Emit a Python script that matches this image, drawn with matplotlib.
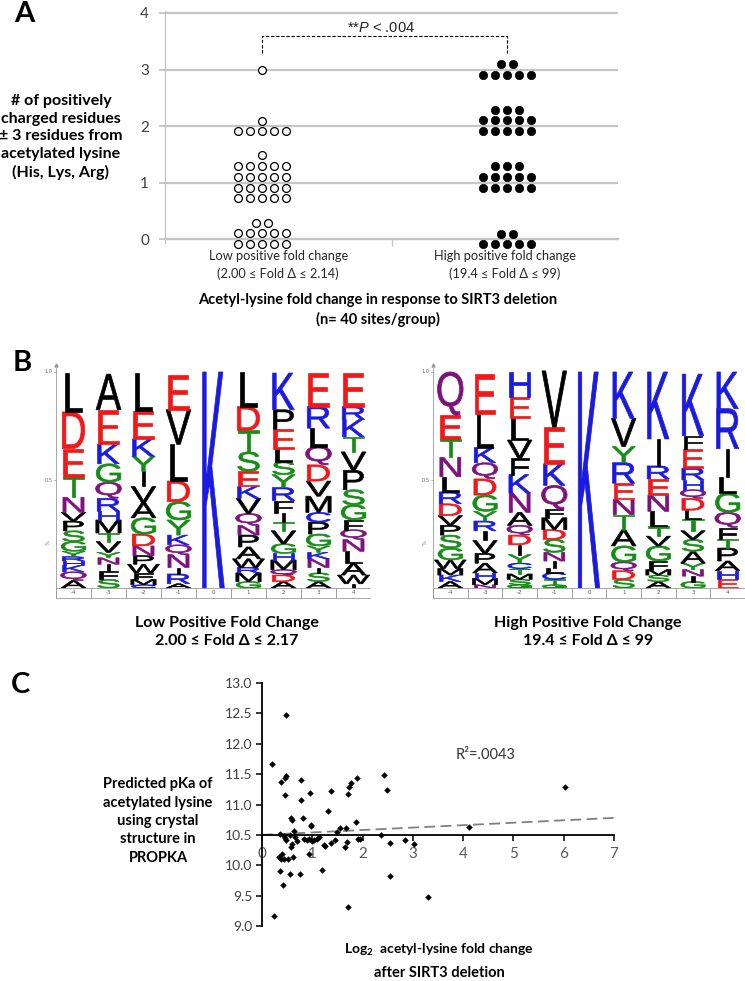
import numpy as np
import matplotlib
matplotlib.use('Agg')
import matplotlib.pyplot as plt
from matplotlib.textpath import TextPath
from matplotlib.patches import PathPatch, Rectangle
from matplotlib.font_manager import FontProperties
from matplotlib.transforms import Affine2D, blended_transform_factory

plt.rcParams['font.family'] = ['Lato', 'DejaVu Sans']
plt.rcParams['mathtext.fontset'] = 'custom'
plt.rcParams['mathtext.it'] = 'Liberation Sans:italic'
plt.rcParams['mathtext.rm'] = 'Liberation Sans'
plt.rcParams['mathtext.default'] = 'regular'

# ---------------- data: panel A ----------------
a_values = [0, 1, 2, 3]
low_counts = [12, 21, 6, 1]
high_counts = [7, 13, 13, 7]
a_group_labels = ['Low positive fold change\n(2.00 \u2264 Fold \u0394 \u2264 2.14)',
                  'High positive fold change\n(19.4 \u2264 Fold \u0394 \u2264 99)']
a_yticks = [0, 1, 2, 3, 4]
a_pvalue = '**$\\it{P}$ < .004'

# ---------------- data: panel B ----------------
logo_positions = ['-4', '-3', '-2', '-1', '0', '1', '2', '3', '4']
# letters listed top -> bottom with their heights (fraction)
low_logo_letters = ['LDETNVPSGYRHKQA', 'AEKGQRHMTVYNIFS', 'LEKYIVAGDNPWFMC', 'EVLDGYKQNIRA',
                    'K', 'LDTSEKVQNPAWRMG', 'KPELSYRFITVGHMQDA', 'ERLQDVMCPGYKNISA',
                    'ERKTVPSGFQNLAWI']
low_logo_heights = [
    [.18, .17, .13, .095, .07, .04, .045, .05, .045, .025, .02, .02, .03, .04, .035],
    [.165, .16, .09, .085, .075, .06, .04, .06, .04, .05, .025, .03, .03, .04, .04],
    [.175, .13, .08, .07, .07, .075, .07, .075, .055, .045, .04, .04, .03, .025, .015],
    [.16, .16, .17, .095, .085, .07, .045, .045, .06, .03, .045, .02],
    [1.0],
    [.16, .11, .10, .09, .07, .055, .07, .055, .045, .055, .055, .04, .025, .04, .03],
    [.17, .09, .09, .06, .06, .06, .06, .06, .04, .04, .06, .045, .03, .045, .025, .03, .03],
    [.155, .10, .085, .085, .075, .07, .075, .045, .055, .055, .03, .03, .04, .025, .04, .03],
    [.155, .06, .08, .07, .085, .09, .07, .07, .045, .045, .055, .055, .055, .04, .02],
]
high_logo_letters = ['QETNLRDVPSGWMKA', 'ELKQDGYRIVPAHMN', 'HELVFKNAQDIYCTMSG', 'VEKQFMDSNILCTG',
                     'K', 'KVYRENTAGQDS', 'KIRENLTVGFMSA', 'KFERHQDLTVSAYNIG', 'KRILGQFTPAHE']
high_logo_heights = [
    [.20, .11, .085, .09, .07, .055, .055, .045, .045, .06, .055, .04, .03, .03, .03],
    [.185, .155, .07, .075, .075, .075, .045, .045, .045, .06, .045, .045, .025, .03, .015],
    [.115, .10, .10, .085, .075, .085, .09, .06, .045, .045, .045, .04, .025, .025, .025, .025, .015],
    [.26, .17, .10, .11, .04, .055, .045, .06, .04, .03, .025, .03, .025, .015],
    [1.0],
    [.215, .13, .075, .095, .075, .07, .07, .075, .075, .04, .04, .04],
    [.31, .125, .06, .075, .075, .07, .045, .045, .07, .04, .025, .03, .03],
    [.285, .06, .09, .055, .045, .04, .055, .04, .055, .04, .055, .055, .03, .03, .025, .03],
    [.17, .185, .13, .075, .09, .07, .055, .04, .06, .045, .04, .04],
]
low_logo_title = 'Low Positive Fold Change\n2.00 \u2264 Fold \u0394 \u2264 2.17'
high_logo_title = 'High Positive Fold Change\n19.4 \u2264 Fold \u0394 \u2264 99'

# ---------------- data: panel C ----------------
c_x = [0.20, 0.38, 0.46, 0.48, 0.77, 0.46, 0.77, 0.96, 1.31, 1.38,
       0.58, 0.60, 0.81, 0.97, 0.97, 0.64, 0.36, 0.44, 0.46, 0.47,
       0.60, 0.58, 0.40, 0.34, 0.37, 0.44, 0.52, 0.62, 0.36, 0.56,
       0.75, 0.42, 0.23, 0.84, 0.89, 0.94, 0.99, 1.04, 0.94, 1.10,
       1.13, 1.23, 1.26, 1.19, 1.38, 1.46, 1.56, 1.68, 1.70, 1.66,
       1.71, 1.74, 1.76, 1.88, 1.86, 1.72, 1.90, 1.95, 2.37, 2.43,
       2.48, 2.55, 2.54, 2.84, 3.03, 3.31, 4.12, 6.02, 0.48, 0.55,
       0.66, 0.70, 1.50]
c_y = [11.66, 11.37, 11.44, 11.47, 11.40, 11.16, 11.08, 11.19, 10.90, 11.23,
       10.78, 10.75, 10.78, 10.65, 10.67, 10.57, 10.52, 10.48, 10.45, 10.41,
       10.35, 10.30, 10.19, 10.13, 10.10, 10.11, 10.10, 10.13, 9.91, 9.86,
       9.86, 9.67, 9.17, 10.43, 10.41, 10.43, 10.40, 10.42, 10.18, 10.44,
       10.46, 10.33, 10.31, 9.92, 10.37, 10.42, 10.62, 10.61, 10.39, 10.30,
       11.17, 11.29, 11.35, 11.44, 10.72, 9.32, 10.43, 10.43, 10.50, 11.48,
       11.24, 10.36, 9.82, 10.42, 10.35, 9.47, 10.63, 11.29, 12.47, 10.50,
       10.46, 10.40, 10.55]
trend_intercept = 10.50
trend_slope = 0.04
c_r2 = 'R\u00b2=.0043'
c_xticks = [0, 1, 2, 3, 4, 5, 6, 7]
c_yticks = [9.0, 9.5, 10.0, 10.5, 11.0, 11.5, 12.0, 12.5, 13.0]

# ---------------- figure ----------------
W, H = 745, 981
fig = plt.figure(figsize=(W / 100, H / 100), dpi=100)


def fx(px):
    return px / W


def fy(py):
    return 1 - py / H


# ================= Panel A =================
axA = fig.add_axes([fx(165), fy(243), (618 - 165) / W, (243 - 11.3) / H])
axA.set_xlim(0, 2)
axA.set_ylim(-0.07, 4.03)
axA.set_yticks(a_yticks)
axA.set_yticklabels([str(v) for v in a_yticks])
axA.yaxis.grid(True, color='#c6c6c6', lw=1.6)
axA.set_axisbelow(True)
axA.tick_params(axis='y', length=4.5, width=1.3, color='#c6c6c6', labelsize=11,
                labelcolor='#404040', pad=7)
axA.set_xticks([1])
axA.set_xticklabels([''])
axA.tick_params(axis='x', length=5, width=1, color='#c6c6c6', direction='out')
for s in ['top', 'right']:
    axA.spines[s].set_visible(False)
axA.spines['left'].set_color('#bdbdbd')
axA.spines['bottom'].set_position(('data', 0))
axA.spines['bottom'].set_color('#c6c6c6')
axA.spines['bottom'].set_linewidth(1.6)

group_x = [0.428, 1.51]


def dot_positions(center, counts, values, per_row=5, dx=0.053, dy=0.19):
    xs, ys = [], []
    for v, n in zip(values, counts):
        nrows = int(np.ceil(n / per_row))
        base = v if nrows <= 2 else v + 0.1
        y0 = base - dy * (nrows - 1) / 2
        remaining = n
        for r in range(nrows):
            k = min(per_row, remaining)
            remaining -= k
            for j in range(k):
                xs.append(center + (j - (k - 1) / 2) * dx)
                ys.append(y0 + r * dy)
    return xs, ys


lx, ly = dot_positions(group_x[0], low_counts, a_values)
hx, hy = dot_positions(group_x[1], high_counts, a_values)
axA.scatter(lx, ly, s=32, facecolor='white', edgecolor='black', linewidth=0.9,
            zorder=3, clip_on=False)
axA.scatter(hx, hy, s=36, facecolor='black', edgecolor='black', linewidth=0.5,
            zorder=3, clip_on=False)

axA.plot([group_x[0], group_x[0], group_x[1], group_x[1]], [3.29, 3.59, 3.59, 3.29],
         color='black', lw=0.8, ls=(0, (3, 1.6)))
axA.text(0.955, 3.74, a_pvalue, ha='center', va='center', fontsize=10.5,
         family='Liberation Sans', color='#222222')

tA = blended_transform_factory(axA.transData, fig.transFigure)
for gx, lab in zip([0.5, 1.5], a_group_labels):
    axA.text(gx, fy(265), lab, transform=tA, ha='center', va='center', fontsize=9.2,
             color='#262626', linespacing=1.45)

fig.text(fx(378), fy(310), 'Acetyl-lysine fold change in response to SIRT3 deletion\n(n= 40 sites/group)',
         ha='center', va='center', fontsize=10.5, fontweight='bold', linespacing=1.45)
fig.text(fx(61), fy(137), '# of positively\ncharged residues\n\u00b1 3 residues from\nacetylated lysine\n(His, Lys, Arg)',
         ha='center', va='center', fontsize=11.5, fontweight='bold', linespacing=1.33)
fig.text(fx(24), fy(14), 'A', ha='center', va='center', fontsize=21, fontweight='bold')

# ================= Panel B =================
letter_font = FontProperties(family='Liberation Sans', weight='normal')
color_of = {}
for ch in 'DE':
    color_of[ch] = '#f01818'
for ch in 'KRHC':
    color_of[ch] = '#1a1ae0'
for ch in 'STYG':
    color_of[ch] = '#158c15'
for ch in 'NQ':
    color_of[ch] = '#7d127d'


def draw_letter(ax, ch, xc, y0, h, col_w=1.0):
    tp = TextPath((0, 0), ch, size=1, prop=letter_font)
    bb = tp.get_extents()
    sx = min(1.08, 0.92 / bb.width) * col_w
    sy = h / bb.height
    tr = Affine2D().translate(-(bb.x0 + bb.x1) / 2, -bb.y0).scale(sx, sy).translate(xc, y0)
    ax.add_patch(PathPatch(tr.transform_path(tp), fc=color_of.get(ch, 'black'),
                           ec=color_of.get(ch, 'black'), lw=0.5))


def draw_logo(ax, letters, heights):
    ax.set_xlim(0, 9)
    ax.set_ylim(-0.06, 1.06)
    ax.axis('off')
    for i, (lets, hs) in enumerate(zip(letters, heights)):
        y = 0.0
        for ch, h in reversed(list(zip(lets, hs))):
            draw_letter(ax, ch, i + 0.5, y, h)
            y += h
        ax.add_patch(Rectangle((i, -0.045), 1, 0.045, fc='white', ec='#9a9a9a', lw=0.6))
        ax.text(i + 0.5, -0.0225, logo_positions[i], ha='center', va='center',
                fontsize=4, color='#555555', family='DejaVu Sans')
    ax.plot([0, 0], [-0.045, 1.02], color='#9a9a9a', lw=0.6, clip_on=False)
    ax.plot([0], [1.03], marker='^', ms=2.2, color='#9a9a9a', clip_on=False)
    for v, lab in [(1.0, '1.0'), (0.5, '0.5')]:
        ax.plot([-0.07, 0], [v, v], color='#9a9a9a', lw=0.5, clip_on=False)
        ax.text(-0.22, v, lab, ha='center', va='center', fontsize=3.6, color='#666666',
                family='DejaVu Sans')
    ax.text(-0.22, 0.21, '%', ha='center', va='center', fontsize=3.6, color='#666666',
            rotation=90, family='DejaVu Sans')


axL = fig.add_axes([fx(56), fy(601), 315 / W, 242 / H])
draw_logo(axL, low_logo_letters, low_logo_heights)
axR = fig.add_axes([fx(433), fy(601), 312 / W, 242 / H])
draw_logo(axR, high_logo_letters, high_logo_heights)

fig.text(fx(227), fy(632), low_logo_title, ha='center', va='center', fontsize=11.5,
         fontweight='bold', linespacing=1.4)
fig.text(fx(588), fy(632), high_logo_title, ha='center', va='center', fontsize=11.5,
         fontweight='bold', linespacing=1.4)
fig.text(fx(22), fy(363), 'B', ha='center', va='center', fontsize=21, fontweight='bold')

# ================= Panel C =================
axC = fig.add_axes([fx(262), fy(926), (614 - 262) / W, (926 - 683) / H])
axC.set_xlim(0, 7)
axC.set_ylim(9, 13)
for s in ['top', 'right']:
    axC.spines[s].set_visible(False)
axC.spines['left'].set_linewidth(1.3)
axC.spines['bottom'].set_position(('data', 10.5))
axC.spines['bottom'].set_linewidth(1.3)
axC.set_xticks(c_xticks)
axC.set_xticklabels([str(v) for v in c_xticks])
axC.set_yticks(c_yticks)
axC.set_yticklabels(['%.1f' % v for v in c_yticks])
axC.tick_params(axis='x', direction='out', length=4, width=1.1, labelsize=11,
                labelcolor='#595959', pad=5)
axC.tick_params(axis='y', direction='out', length=4, width=1.1, labelsize=10,
                labelcolor='#404040', pad=3)

xs_line = np.array([0, 7])
axC.plot(xs_line, trend_intercept + trend_slope * xs_line, color='#808080', lw=1.3,
         ls=(0, (6, 3)), zorder=2)
axC.scatter(c_x, c_y, s=11, marker='D', color='black', zorder=3, linewidths=0)
axC.text(4.45, 11.82, c_r2, ha='center', va='center', fontsize=10.5, color='#333333')

fig.text(fx(158), fy(821), 'Predicted pKa of\nacetylated lysine\nusing crystal\nstructure in\nPROPKA',
         ha='center', va='center', fontsize=10.5, fontweight='bold', linespacing=1.4)
fig.text(fx(439), fy(950), 'Log$_2$  acetyl-lysine fold change', ha='center', va='center',
         fontsize=10, fontweight='bold')
fig.text(fx(439), fy(973), 'after SIRT3 deletion', ha='center', va='center',
         fontsize=10.5, fontweight='bold')
fig.text(fx(21), fy(685), 'C', ha='center', va='center', fontsize=21, fontweight='bold')

fig.savefig('out.png', dpi=100)
